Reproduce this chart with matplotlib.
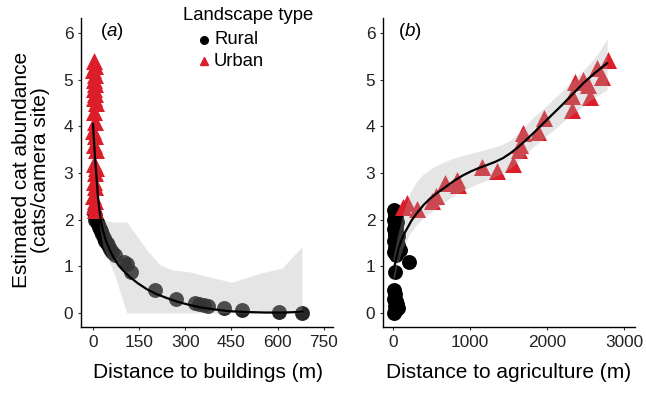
import numpy as np
import matplotlib
matplotlib.use("Agg")
import matplotlib.pyplot as plt
from matplotlib.lines import Line2D

plt.rcParams['font.family'] = ['Liberation Sans', 'DejaVu Sans']
plt.rcParams['mathtext.fontset'] = 'custom'
plt.rcParams['mathtext.rm'] = 'Liberation Sans'
plt.rcParams['mathtext.it'] = 'Liberation Sans:italic'

# ---- panel (a): distance to buildings ----
urban_bld_x = [2, 5, 1, 6, 3, 8, 2, 7, 4, 9, 3, 6, 1, 8, 4, 9, 2, 10, 5, 3, 7, 1, 6, 4, 8]
urban_bld_y = [5.4, 5.3, 5.2, 5.1, 5.0, 4.9, 4.8, 4.7, 4.6, 4.5, 4.3, 4.1, 3.9, 3.8, 3.6,
               3.5, 3.2, 3.1, 3.0, 2.8, 2.7, 2.5, 2.4, 2.3, 2.2]
rural_bld_x = [2, 5, 8, 12, 15, 18, 22, 25, 30, 35, 40, 45, 50, 55, 62, 70, 100, 110, 125,
               200, 270, 330, 345, 360, 375, 425, 485, 605, 680]
rural_bld_y = [2.15, 2.1, 2.0, 1.95, 1.9, 1.85, 1.8, 1.75, 1.7, 1.6, 1.55, 1.5, 1.45, 1.38,
               1.3, 1.25, 1.1, 1.05, 0.88, 0.5, 0.3, 0.22, 0.2, 0.18, 0.15, 0.1, 0.07, 0.02, 0.01]
fit_bld_x = [0, 4, 8, 12, 16, 21, 26, 33, 42, 53, 66, 80, 95, 120, 145, 175, 205, 240, 275,
             315, 350, 390, 440, 500, 560, 620, 660, 680]
fit_bld_y = [4.05, 3.6, 3.2, 2.85, 2.5, 2.2, 1.95, 1.75, 1.55, 1.37, 1.2, 1.05, 0.93, 0.77,
             0.64, 0.51, 0.41, 0.32, 0.24, 0.17, 0.12, 0.08, 0.04, 0.02, 0.01, 0.01, 0.02, 0.03]
band_bld_x = [22, 33, 62, 71, 110, 136, 175, 218, 260, 315, 380, 451, 542, 614, 679]
band_bld_lo = [1.8, 1.41, 0.95, 0.8, 0.0, 0.0, 0.0, 0.0, 0.0, 0.0, 0.0, 0.0, 0.0, 0.0, 0.0]
band_bld_hi = [2.0, 1.99, 1.95, 1.95, 1.95, 1.71, 1.35, 1.03, 0.92, 0.88, 0.77, 0.66, 0.85,
               0.96, 1.42]

# ---- panel (b): distance to agriculture ----
urban_agr_x = [130, 180, 310, 500, 560, 675, 830, 845, 1155, 1350, 1555, 1630, 1650, 1690,
               1880, 1960, 2325, 2325, 2365, 2470, 2530, 2560, 2650, 2715, 2790]
urban_agr_y = [2.27, 2.36, 2.22, 2.4, 2.5, 2.78, 2.85, 2.74, 3.13, 3.04, 3.2, 3.5, 3.6, 3.85,
               3.88, 4.17, 4.35, 4.65, 4.95, 5.0, 4.88, 4.62, 5.24, 5.05, 5.42]
rural_agr_x = [10, 30, 20, 40, 15, 50, 25, 35, 10, 45, 20, 60, 30, 15, 50, 70, 25, 90, 10,
               40, 208, 20, 10, 30, 15, 40, 50, 20, 60, 30, 10]
rural_agr_y = [2.2, 2.15, 2.1, 2.05, 2.0, 1.95, 1.9, 1.85, 1.8, 1.75, 1.7, 1.65, 1.6, 1.55,
               1.5, 1.45, 1.4, 1.35, 1.3, 1.25, 1.1, 0.88, 0.5, 0.4, 0.3, 0.25, 0.2, 0.15,
               0.1, 0.05, 0.0]
fit_agr_x = [0, 15, 40, 70, 100, 140, 180, 240, 310, 400, 480, 580, 700, 800, 910, 1020,
             1120, 1220, 1330, 1430, 1530, 1630, 1730, 1840, 1950, 2080, 2210, 2340, 2470,
             2620, 2780]
fit_agr_y = [0.85, 0.97, 1.15, 1.37, 1.52, 1.68, 1.8, 1.98, 2.14, 2.32, 2.45, 2.58, 2.72,
             2.84, 2.95, 3.04, 3.11, 3.17, 3.24, 3.32, 3.43, 3.56, 3.71, 3.88, 4.06, 4.27,
             4.48, 4.7, 4.92, 5.14, 5.35]
band_agr_x = [0, 50, 130, 220, 300, 390, 500, 610, 760, 910, 1100, 1260, 1400, 1520, 1650,
              1780, 2000, 2210, 2400, 2560, 2680, 2780]
band_agr_lo = [0.6, 1.0, 1.4, 1.7, 1.88, 2.03, 2.17, 2.3, 2.48, 2.63, 2.77, 2.87, 2.98, 3.1,
               3.28, 3.5, 3.8, 4.1, 4.35, 4.56, 4.68, 4.78]
band_agr_hi = [1.2, 1.6, 2.14, 2.57, 2.8, 2.97, 3.1, 3.2, 3.3, 3.38, 3.46, 3.53, 3.6, 3.7,
               3.88, 4.13, 4.45, 4.78, 5.08, 5.35, 5.6, 5.88]

red = '#dc1e2a'
W, H = 646, 393
fig = plt.figure(figsize=(W / 100, H / 100), dpi=100)
ax_a = fig.add_axes([81 / W, 66 / H, 252 / W, 309 / H])
ax_b = fig.add_axes([383 / W, 66 / H, 252 / W, 309 / H])


def style(ax):
    for s in ['top', 'right']:
        ax.spines[s].set_visible(False)
    for s in ['left', 'bottom']:
        ax.spines[s].set_linewidth(1.0)
        ax.spines[s].set_color('black')
    ax.tick_params(length=2.5, width=0.8, color='#333333', labelsize=12.4,
                   labelcolor='#222222', pad=3)
    ax.set_ylim(-0.3, 6.32)
    ax.set_yticks([0, 1, 2, 3, 4, 5, 6])


style(ax_a)
ax_a.scatter(rural_bld_x, rural_bld_y, s=115, color='black', alpha=0.85, lw=0, zorder=1)
ax_a.scatter(urban_bld_x, urban_bld_y, s=150, marker='^', color=red, lw=0, zorder=1)
ax_a.fill_between(band_bld_x, band_bld_lo, band_bld_hi, color='#aaaaaa', alpha=0.3, lw=0, zorder=2)
ax_a.plot(fit_bld_x, fit_bld_y, color='black', lw=1.6, zorder=3)
ax_a.set_xlim(-39, 780)
ax_a.set_xticks([0, 150, 300, 450, 600, 750])
ax_a.text(0.075, 0.955, r'($\mathit{a}$)', transform=ax_a.transAxes, fontsize=13.5,
          ha='left', va='center')

style(ax_b)
ax_b.scatter(rural_agr_x, rural_agr_y, s=115, color='black', lw=0, zorder=1)
ax_b.scatter(urban_agr_x, urban_agr_y, s=150, marker='^', color=red, lw=0, zorder=1)
ax_b.fill_between(band_agr_x, band_agr_lo, band_agr_hi, color='#aaaaaa', alpha=0.3, lw=0, zorder=2)
ax_b.plot(fit_agr_x, fit_agr_y, color='black', lw=1.6, zorder=3)
ax_b.set_xlim(-130, 3143)
ax_b.set_xticks([0, 1000, 2000, 3000])
ax_b.text(0.06, 0.955, r'($\mathit{b}$)', transform=ax_b.transAxes, fontsize=13.5,
          ha='left', va='center')

# axis titles
fig.text(208 / W, 1 - 373 / H, 'Distance to buildings (m)', fontsize=15, ha='center', va='center')
fig.text(509 / W, 1 - 373 / H, 'Distance to agriculture (m)', fontsize=15, ha='center', va='center')
fig.text(31 / W, 1 - 170 / H, 'Estimated cat abundance\n(cats/camera site)', fontsize=15,
         rotation=90, ha='center', va='center', multialignment='center', linespacing=1.05)

# legend
fig.text(183 / W, 1 - 15 / H, 'Landscape type', fontsize=13.3, ha='left', va='center')
fig.add_artist(Line2D([204 / W], [1 - 40 / H], marker='o', ms=5.5, color='black', lw=0,
                      transform=fig.transFigure))
fig.add_artist(Line2D([204 / W], [1 - 61 / H], marker='^', ms=6, color=red, lw=0,
                      transform=fig.transFigure))
fig.text(214 / W, 1 - 40 / H, 'Rural', fontsize=13.3, ha='left', va='center')
fig.text(214 / W, 1 - 62 / H, 'Urban', fontsize=13.3, ha='left', va='center')

fig.savefig('out.png', dpi=100)
